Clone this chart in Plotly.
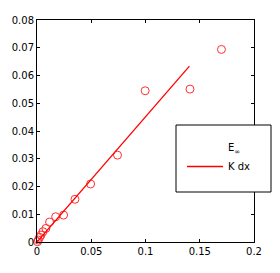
import plotly.graph_objects as go

# Data
e_inf_x = [0.0005, 0.0012, 0.0024, 0.0037, 0.0055, 0.0082, 0.0116, 0.0172, 0.0245,
           0.035, 0.0494, 0.0742, 0.0997, 0.141, 0.170]
e_inf_y = [0.0001, 0.0007, 0.0017, 0.0025, 0.0037, 0.0049, 0.0072, 0.0091, 0.0097,
           0.0154, 0.0209, 0.0313, 0.0545, 0.0551, 0.0694]
kdx_x = [0.0, 0.1405]
kdx_y = [0.0, 0.0634]

x_ticks = [0, 0.05, 0.1, 0.15, 0.2]
x_tick_labels = ["0", "0.05", "0.1", "0.15", "0.2"]
y_ticks = [0, 0.01, 0.02, 0.03, 0.04, 0.05, 0.06, 0.07, 0.08]
y_tick_labels = ["0", "0.01", "0.02", "0.03", "0.04", "0.05", "0.06", "0.07", "0.08"]

RED = "#ff0000"
FONT = "DejaVu Sans"

fig = go.Figure()
fig.add_trace(go.Scatter(
    x=e_inf_x, y=e_inf_y, mode="markers", showlegend=False, cliponaxis=False,
    marker=dict(symbol="circle-open", size=8, color="#ff3030", line=dict(width=1, color="#ff3030")),
))
# legend entry for E∞ (Octave legend shows no marker)
fig.add_trace(go.Scatter(
    x=[None], y=[None], mode="markers", name="E<sub>∞</sub>",
    marker=dict(symbol="circle-open", size=8, color="rgba(0,0,0,0)", opacity=0),
))
fig.add_trace(go.Scatter(
    x=kdx_x, y=kdx_y, mode="lines", name="K dx",
    line=dict(color=RED, width=1.3),
))

axis_common = dict(
    showgrid=False, zeroline=False, showline=True, linecolor="black", linewidth=1,
    mirror="ticks", ticks="inside", ticklen=3, tickcolor="black", automargin=False,
    tickfont=dict(family=FONT, size=10, color="black"),
)
fig.update_xaxes(range=[0, 0.2], tickvals=x_ticks, ticktext=x_tick_labels, **axis_common)
fig.update_yaxes(range=[0, 0.08], tickvals=y_ticks, ticktext=y_tick_labels, **axis_common)

# legend box
fig.add_shape(type="rect", xref="paper", yref="paper",
              x0=(176 - 37) / 217, x1=(271 - 37) / 217,
              y0=(242 - 192) / 222, y1=(242 - 125) / 222,
              line=dict(color="black", width=1), fillcolor="white", layer="above")

fig.update_layout(
    width=280, height=273,
    margin=dict(l=37, r=26, t=20, b=31, autoexpand=False),
    plot_bgcolor="white", paper_bgcolor="white",
    font=dict(family=FONT, size=10, color="black"),
    legend=dict(x=(182 - 37) / 217, y=(242 - 133) / 222, xanchor="left", yanchor="top",
                bgcolor="rgba(0,0,0,0)", borderwidth=0,
                font=dict(family=FONT, size=10, color="black"),
                itemwidth=36, tracegroupgap=0),
)

fig.write_html("out.html", config={"displayModeBar": False},
               post_script="document.body.style.margin='0';")
